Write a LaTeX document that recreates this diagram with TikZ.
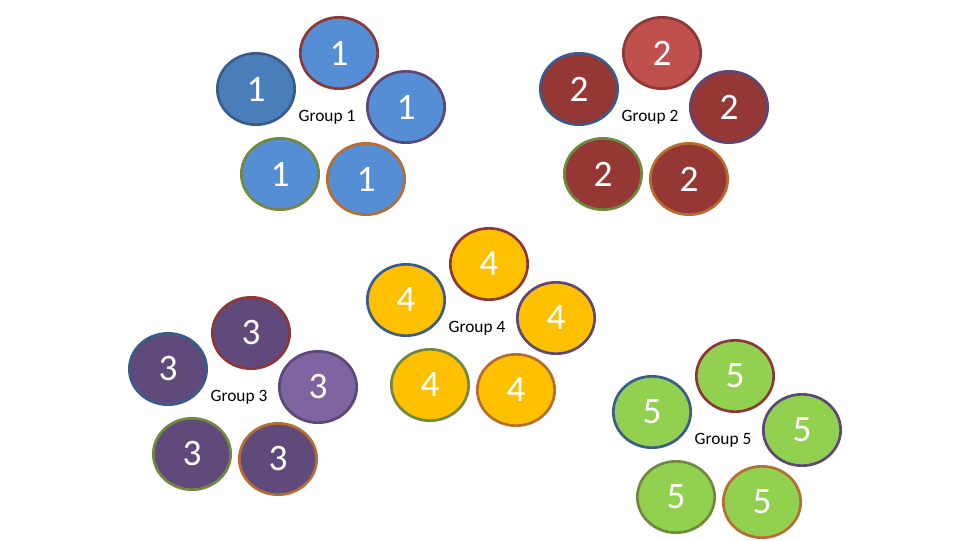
\documentclass[tikz,border=0pt]{standalone}
\usepackage{fontspec}
\setmainfont{Carlito}
\usetikzlibrary{shapes.geometric}
\definecolor{g1fill}{HTML}{558ED5}
\definecolor{g1dark}{HTML}{4A7EBB}
\definecolor{g2fill}{HTML}{953735}
\definecolor{g2light}{HTML}{C0504D}
\definecolor{g3fill}{HTML}{604A7B}
\definecolor{g3light}{HTML}{8064A2}
\definecolor{g4fill}{HTML}{FFC000}
\definecolor{g5fill}{HTML}{92D050}
\definecolor{bdblue}{HTML}{385D8A}
\definecolor{bdred}{HTML}{8C3836}
\definecolor{bdpurple}{HTML}{5C4776}
\definecolor{bdgreen}{HTML}{71893F}
\definecolor{bdorange}{HTML}{B66D31}
\tikzset{
  disc/.style={ellipse, minimum width=58pt, minimum height=53.5pt, inner sep=0pt,
    line width=2pt, text=white, font=\fontsize{28}{30}\selectfont},
  grplabel/.style={font=\fontsize{13}{15}\selectfont, text=black, inner sep=0pt}
}
\begin{document}
\begin{tikzpicture}[x=0.75pt,y=-0.75pt]
\path[fill=white] (0,0) rectangle (960,540);
\useasboundingbox (0,0) rectangle (960,540);
\foreach \g/\cx/\cy/\fl/\ft/\fr/\fm in {
  1/327/117/g1dark/g1fill/g1fill/g1fill,
  2/650/117/g2fill/g2light/g2fill/g2fill,
  3/239/397/g3fill/g3fill/g3light/g3fill,
  4/477/328/g4fill/g4fill/g4fill/g4fill,
  5/723/440/g5fill/g5fill/g5fill/g5fill}{
  \node[grplabel] (grp\g) at (\cx,\cy) {Group \g};
  \node[disc, fill=\fl, draw=bdblue]   (g\g l)  at ({\cx-71},{\cy-28}) {\g};
  \node[disc, fill=\ft, draw=bdred]    (g\g t)  at ({\cx+12},{\cy-64}) {\g};
  \node[disc, fill=\fr, draw=bdpurple] (g\g r)  at ({\cx+79},{\cy-10}) {\g};
  \node[disc, fill=\fm, draw=bdgreen]  (g\g bl) at ({\cx-47},{\cy+57}) {\g};
  \node[disc, fill=\fm, draw=bdorange] (g\g br) at ({\cx+39},{\cy+62}) {\g};
}
\end{tikzpicture}
\end{document}
